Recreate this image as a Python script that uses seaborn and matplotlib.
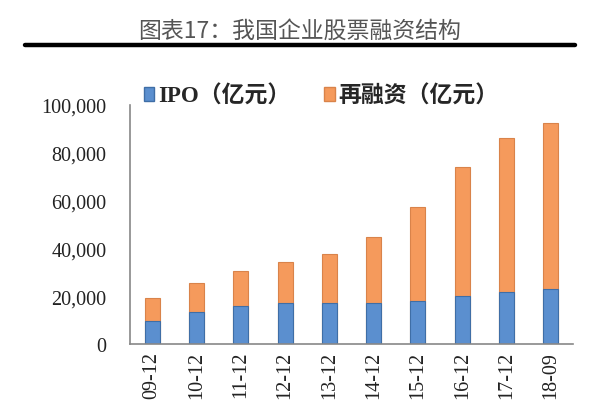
import matplotlib
matplotlib.use("Agg")
import matplotlib.pyplot as plt
import seaborn as sns
import pandas as pd
import numpy as np
from matplotlib.patches import Patch
from matplotlib.lines import Line2D

periods = ["09-12", "10-12", "11-12", "12-12", "13-12",
           "14-12", "15-12", "16-12", "17-12", "18-09"]
ipo = [9700, 13500, 15700, 17100, 17100, 17200, 18000, 19900, 21800, 22900]
refinance = [9500, 11900, 14800, 17400, 20400, 27500, 39200, 54000, 64600, 69700]
yticks = [0, 20000, 40000, 60000, 80000, 100000]

sns.set_theme(style="white")
plt.rcParams['font.family'] = ['Liberation Serif', 'Noto Sans CJK SC', 'DejaVu Sans']

df = pd.DataFrame({"period": periods, "ipo": ipo,
                   "total": [a + b for a, b in zip(ipo, refinance)]})

fig = plt.figure(figsize=(6.0, 4.02), dpi=100)
ax = fig.add_axes([130/600, 1 - 345/402, (573-130)/600, (345-106)/402])

blue = "#5b8fcf"
blue_edge = "#3f6ea6"
orange = "#f59a5c"
orange_edge = "#d9834a"

sns.barplot(data=df, x="period", y="total", color=orange, width=0.34,
            edgecolor=orange_edge, linewidth=0.8, saturation=1, ax=ax)
sns.barplot(data=df, x="period", y="ipo", color=blue, width=0.34,
            edgecolor=blue_edge, linewidth=0.8, saturation=1, ax=ax)

ax.set_xlim(-0.5, len(periods) - 0.5)
ax.set_ylim(0, 100000)
ax.set_xlabel("")
ax.set_ylabel("")
ax.set_yticks(yticks)
ax.set_yticklabels([f"{v:,}" for v in yticks], fontsize=14.5,
                   family=['Liberation Serif'])
ax.set_xticks(range(len(periods)))
ax.set_xticklabels(periods, rotation=90, fontsize=14.5, family=['Liberation Serif'],
                   va="top")
ax.set_xticks(np.arange(-0.5, len(periods)), minor=True)
ax.tick_params(axis="x", which="major", length=0, pad=5)
ax.tick_params(axis="x", which="minor", length=4, direction="out", color="#888888", width=1)
ax.tick_params(axis="y", which="major", length=4, direction="out", color="#888888",
               width=1, pad=13)
ax.tick_params(which="major", axis="both", labelcolor="#222222")

for side in ["top", "right"]:
    ax.spines[side].set_visible(False)
for side in ["left", "bottom"]:
    ax.spines[side].set_color("#888888")
    ax.spines[side].set_linewidth(1.2)

# title and rule
fig.text(0.5, 1 - 31/402, "图表17：我国企业股票融资结构", ha="center", va="center",
         fontsize=16.5, color="#555555", family=['Noto Sans CJK SC'])
fig.add_artist(Line2D([25/600, 575/600], [1 - 46/402, 1 - 46/402],
                      color="black", linewidth=3.2, transform=fig.transFigure))

handles = [Patch(facecolor=blue, edgecolor=blue_edge),
           Patch(facecolor=orange, edgecolor=orange_edge)]
leg = fig.legend(handles, ["IPO（亿元）", "再融资（亿元）"], ncol=2,
                 loc="center left", bbox_to_anchor=(128/600, 1 - 97/402),
                 frameon=False, handlelength=0.45, handleheight=0.6,
                 handletextpad=0.15, columnspacing=1.5, borderpad=0.2,
                 prop={"size": 16.5, "weight": "bold",
                       "family": ['Liberation Serif', 'Noto Sans CJK SC']})

fig.savefig("out.png", dpi=100)
